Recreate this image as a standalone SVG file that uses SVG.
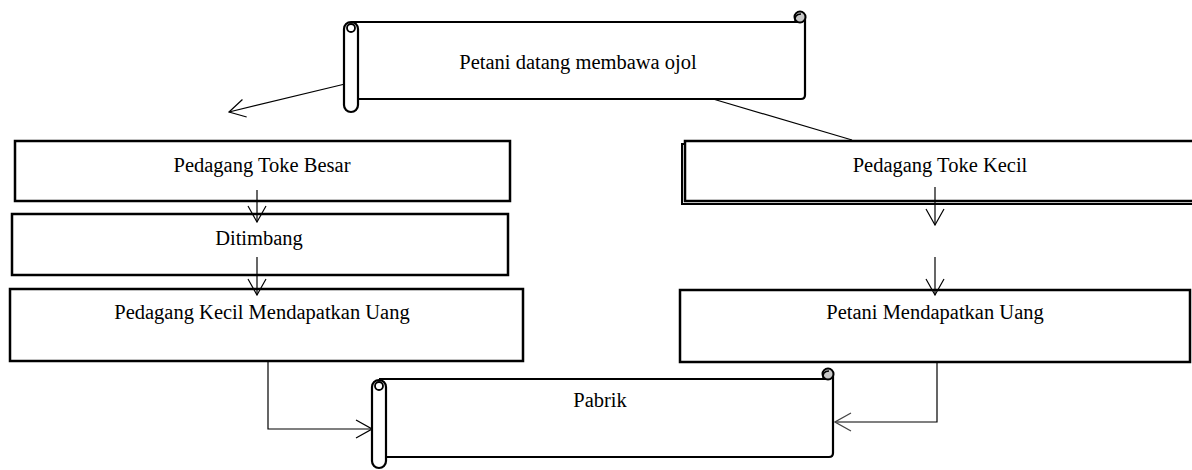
<svg xmlns="http://www.w3.org/2000/svg" width="1192" height="470" viewBox="0 0 1192 470">
<defs>
<marker id="arr" viewBox="0 0 18 20" refX="17" refY="10" markerWidth="18" markerHeight="20" markerUnits="userSpaceOnUse" orient="auto">
<path d="M1,1 L17,10 L1,19" fill="none" stroke="#000" stroke-width="1.2"/>
</marker>
<marker id="arrg" viewBox="0 0 18 20" refX="17" refY="10" markerWidth="18" markerHeight="20" markerUnits="userSpaceOnUse" orient="auto">
<path d="M1,1 L17,10 L1,19" fill="none" stroke="#444" stroke-width="1.2"/>
</marker>
</defs>
<style>
.box{fill:#fff;stroke:#000;stroke-width:2.5}
.scr{fill:#fff;stroke:#000;stroke-width:2.2;stroke-linejoin:round}
.curl{fill:#c8c8c8;stroke:#000;stroke-width:2}
.lbl{font-family:"Liberation Serif","Times New Roman",serif;font-size:20.5px;fill:#000;text-anchor:middle}
.con{fill:none;stroke:#000;stroke-width:1.2}
</style>
<rect width="1192" height="470" fill="#fff"/>

<g id="connectors">
<line class="con" x1="345" y1="84" x2="229" y2="112" marker-end="url(#arr)"/>
<line class="con" x1="713" y1="99" x2="852" y2="140"/>
</g>

<g id="node-petani-datang">
<rect x="351" y="22" width="454" height="77" fill="#fff"/>
<path class="scr" fill="none" d="M351,22 H800 M805,17 V95 Q805,99 801,99 H358"/>
<circle class="curl" cx="800" cy="17" r="5.5"/>
<path d="M795,22 Q794,14 801,14" fill="none" stroke="#000" stroke-width="1.5"/>
<rect class="scr" x="344" y="22" width="14" height="90" rx="7"/>
<circle cx="351" cy="28" r="4" fill="#fff" stroke="#000" stroke-width="1.8"/>
<text class="lbl" x="578" y="69">Petani datang membawa ojol</text>
</g>

<g id="node-toke-besar">
<rect class="box" x="15" y="141" width="495" height="60"/>
<text class="lbl" x="262" y="172">Pedagang Toke Besar</text>
</g>

<g id="node-ditimbang">
<rect class="box" x="12" y="214" width="496" height="61"/>
<text class="lbl" x="259" y="245">Ditimbang</text>
</g>

<g id="node-kecil-uang">
<rect class="box" x="10" y="289" width="513" height="72"/>
<text class="lbl" x="262" y="319">Pedagang Kecil Mendapatkan Uang</text>
</g>

<g id="node-toke-kecil">
<rect x="682" y="144" width="512" height="60" fill="#fff" stroke="#000" stroke-width="2"/>
<rect class="box" x="685" y="141" width="510" height="60"/>
<text class="lbl" x="940" y="172">Pedagang Toke Kecil</text>
</g>

<g id="node-petani-uang">
<rect class="box" x="680" y="290" width="510" height="72"/>
<text class="lbl" x="935" y="319">Petani Mendapatkan Uang</text>
</g>

<g id="node-pabrik">
<rect x="379" y="379" width="454" height="78" fill="#fff"/>
<path class="scr" fill="none" d="M379,379 H828 M833,374 V453 Q833,457 829,457 H386"/>
<circle class="curl" cx="828" cy="374" r="5.5"/>
<path d="M823,379 Q822,371 829,371" fill="none" stroke="#000" stroke-width="1.5"/>
<rect class="scr" x="372" y="380" width="14" height="88" rx="7"/>
<circle cx="379" cy="386" r="4" fill="#fff" stroke="#000" stroke-width="1.8"/>
<text class="lbl" x="600" y="407">Pabrik</text>
</g>

<g id="connectors-2">
<line class="con" x1="257" y1="190" x2="257" y2="222" marker-end="url(#arr)"/>
<line class="con" x1="257" y1="257" x2="257" y2="295" marker-end="url(#arr)"/>
<line class="con" x1="935" y1="187" x2="935" y2="225" marker-end="url(#arr)"/>
<line class="con" x1="935" y1="257" x2="935" y2="295" marker-end="url(#arr)"/>
<polyline class="con" points="268,362 268,429 372,429" marker-end="url(#arr)"/>
<polyline class="con" points="937,363 937,422 835,422" stroke="#444" marker-end="url(#arrg)"/>
</g>
</svg>
